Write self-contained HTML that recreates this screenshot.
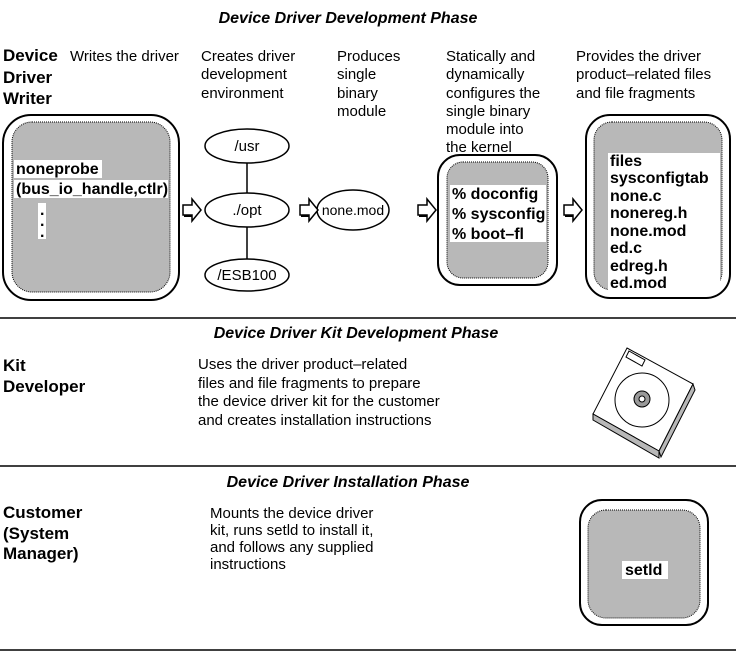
<!DOCTYPE html>
<html><head><style>body{margin:0;background:#fff}svg{display:block}</style></head><body>
<svg width="736" height="652" xmlns="http://www.w3.org/2000/svg" font-family="Liberation Sans, sans-serif" font-size="15">
<defs>
<g id="ar"><path d="M0,-5 h9 v-6 l9,11 l-9,11 v-6 h-9 z" fill="#fff" stroke="#000" stroke-width="1.5"/><path d="M1,6 h8" stroke="#000" stroke-width="2"/></g></defs>
<g font-weight="bold" font-style="italic" font-size="16" text-anchor="middle">
<text x="348" y="23">Device Driver Development Phase</text>
<text x="356" y="338">Device Driver Kit Development Phase</text>
<text x="348" y="487">Device Driver Installation Phase</text></g>
<g font-weight="bold" font-size="17">
<text x="3" y="61">Device</text><text x="3" y="83">Driver</text><text x="3" y="104">Writer</text>
<text x="3" y="371">Kit</text><text x="3" y="392">Developer</text>
<text x="3" y="518">Customer</text><text x="3" y="539">(System</text><text x="3" y="559">Manager)</text></g>
<text x="70" y="61">Writes the driver</text>
<text x="201" y="61">Creates driver</text><text x="201" y="79">development</text><text x="201" y="98">environment</text>
<text x="337" y="61">Produces</text><text x="337" y="79">single</text><text x="337" y="98">binary</text><text x="337" y="116">module</text>
<text x="446" y="61">Statically and</text><text x="446" y="79">dynamically</text><text x="446" y="98">configures the</text><text x="446" y="116">single binary</text><text x="446" y="134">module into</text><text x="446" y="152">the kernel</text>
<text x="576" y="61">Provides the driver</text><text x="576" y="79">product–related files</text><text x="576" y="98">and file fragments</text>
<text x="198" y="369">Uses the driver product–related</text><text x="198" y="388">files and file fragments to prepare</text><text x="198" y="406">the device driver kit for the customer</text><text x="198" y="425">and creates installation instructions</text>
<text x="210" y="518">Mounts the device driver</text><text x="210" y="535">kit, runs setld to install it,</text><text x="210" y="552">and follows any supplied</text><text x="210" y="569">instructions</text>
<g stroke="#000" stroke-width="1.5"><line x1="0" y1="318" x2="736" y2="318"/><line x1="0" y1="466" x2="736" y2="466"/><line x1="0" y1="650" x2="736" y2="650"/></g>
<g stroke="#000" fill="none" stroke-width="2">
<rect x="3" y="115" width="176" height="185" rx="28"/><rect x="438" y="155" width="119" height="130" rx="22"/><rect x="586" y="115" width="144" height="183" rx="24"/><rect x="580" y="500" width="128" height="125" rx="22"/></g>
<g fill="#b8b8b8" stroke="#000" stroke-width="1" stroke-dasharray="1 1">
<rect x="12" y="122" width="158" height="170" rx="20"/><rect x="447" y="162" width="101" height="116" rx="16"/><rect x="594" y="122" width="128" height="168" rx="18"/><rect x="588" y="510" width="112" height="108" rx="18"/></g>
<g font-weight="bold" font-size="16">
<g fill="#fff"><rect x="14" y="160" width="88" height="18"/><rect x="14" y="180" width="154" height="18"/><rect x="38" y="203" width="8" height="36"/>
<rect x="450" y="185" width="96" height="57"/><rect x="608" y="153" width="112" height="139"/><rect x="622" y="561" width="46" height="18"/></g>
<text x="16" y="174">noneprobe</text><text x="16" y="194">(bus_io_handle,ctlr)</text>
<text x="40" y="215">.</text><text x="40" y="226">.</text><text x="40" y="237">.</text>
<text x="452" y="199">% doconfig</text><text x="452" y="219">% sysconfig</text><text x="452" y="239">% boot–fl</text>
<text x="610" y="166">files</text><text x="610" y="183">sysconfigtab</text><text x="610" y="201">none.c</text><text x="610" y="218">nonereg.h</text><text x="610" y="236">none.mod</text><text x="610" y="253">ed.c</text><text x="610" y="271">edreg.h</text><text x="610" y="288">ed.mod</text>
<text x="625" y="575">setld</text></g>
<g stroke="#000" stroke-width="1.5" fill="#fff"><line x1="247" y1="160" x2="247" y2="262"/>
<ellipse cx="247" cy="146" rx="42" ry="17"/><ellipse cx="247" cy="210" rx="42" ry="17"/><ellipse cx="247" cy="275" rx="42" ry="16"/><ellipse cx="353" cy="210" rx="36" ry="20"/></g>
<g text-anchor="middle"><text x="247" y="151">/usr</text><text x="247" y="215">./opt</text><text x="247" y="280">/ESB100</text><text x="353" y="215" font-size="14">none.mod</text></g>
<use href="#ar" x="183" y="210"/><use href="#ar" x="300" y="210"/><use href="#ar" x="418" y="210"/><use href="#ar" x="564" y="210"/>
<g stroke="#000" stroke-width="1">
<path d="M627,348 L693,384 L659,451 L593,414 Z" fill="#fff"/>
<path d="M593,414 L593,420 L659,458 L659,451 Z M659,451 L693,384 L695,390 L661,457 Z" fill="#b8b8b8"/>
<path d="M629,351 L645,360 L642,366 L626,357 Z" fill="#fff"/>
<circle cx="642" cy="400" r="27" fill="#fff"/><circle cx="642" cy="399" r="8" fill="#999"/><circle cx="642" cy="399" r="3" fill="#fff"/></g>
</svg>
</body></html>
